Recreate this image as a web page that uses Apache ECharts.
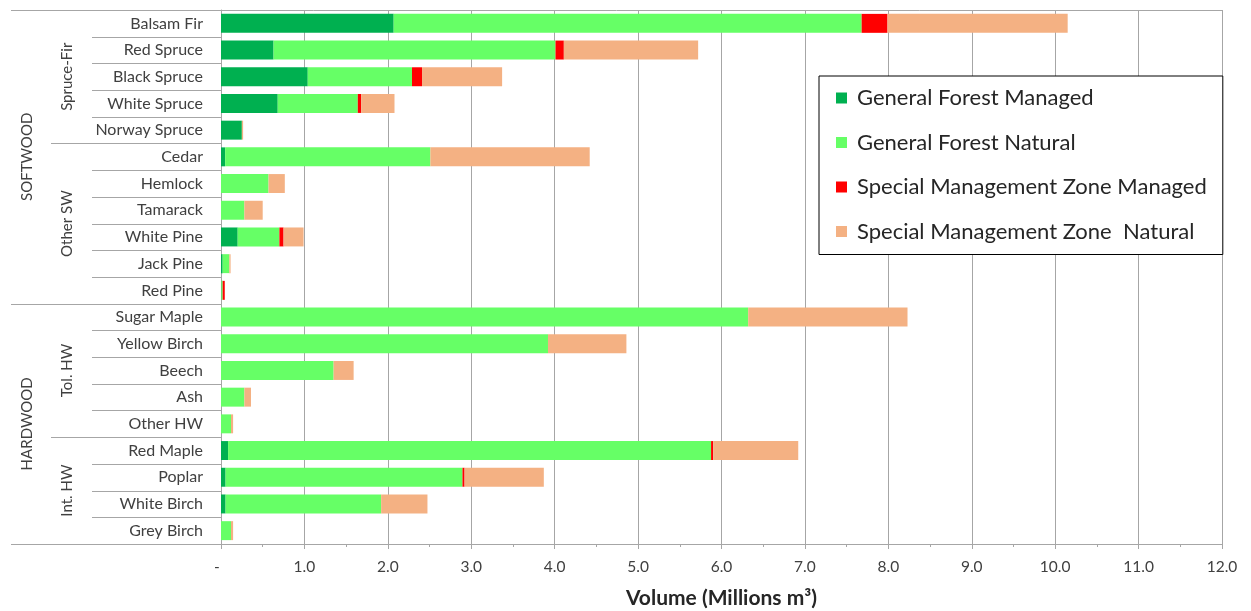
<!DOCTYPE html>
<html>
<head>
<meta charset="utf-8">
<script src="https://cdn.jsdelivr.net/npm/echarts@6/dist/echarts.min.js"></script>
<style>
html,body{margin:0;padding:0;background:#fff;}
#chart{width:1251px;height:611px;}
</style>
</head>
<body>
<div id="chart"></div>
<script>
const categories = ['Balsam Fir','Red Spruce','Black Spruce','White Spruce','Norway Spruce',
  'Cedar','Hemlock','Tamarack','White Pine','Jack Pine','Red Pine',
  'Sugar Maple','Yellow Birch','Beech','Ash','Other HW',
  'Red Maple','Poplar','White Birch','Grey Birch'];
const gfManaged  = [2.07, 0.63, 1.04, 0.68, 0.25, 0.05, 0, 0, 0.20, 0.02, 0.005, 0, 0, 0, 0, 0, 0.085, 0.055, 0.055, 0];
const gfNatural  = [5.61, 3.38, 1.25, 0.96, 0, 2.46, 0.57, 0.28, 0.50, 0.08, 0.015, 6.32, 3.92, 1.35, 0.28, 0.12, 5.79, 2.84, 1.865, 0.12];
const smzManaged = [0.31, 0.10, 0.12, 0.04, 0, 0, 0, 0, 0.05, 0, 0.025, 0, 0, 0, 0, 0, 0.025, 0.025, 0, 0];
const smzNatural = [2.16, 1.61, 0.96, 0.40, 0.015, 1.91, 0.195, 0.22, 0.24, 0.015, 0, 1.91, 0.94, 0.24, 0.08, 0.025, 1.02, 0.95, 0.555, 0.025];
const seriesNames = ['General Forest Managed','General Forest Natural','Special Management Zone Managed','Special Management Zone  Natural'];
const seriesColors = ['#00b050','#66ff66','#ff0000','#f4b183'];
const xTickLabels = ['-','1.0','2.0','3.0','4.0','5.0','6.0','7.0','8.0','9.0','10.0','11.0','12.0'];
const topGroups = [['SOFTWOOD', 11], ['HARDWOOD', 9]];
const subGroups = [['Spruce-Fir', 5], ['Other SW', 6], ['Tol. HW', 5], ['Int. HW', 4]];

const FONT = 'Lato, "Open Sans", sans-serif';
const chart = echarts.init(document.getElementById('chart'), null, {renderer:'canvas'});
const dataArrays = [gfManaged, gfNatural, smzManaged, smzNatural];

const option = {
  animation: false,
  textStyle: {fontFamily: FONT},
  grid: {left: 221, right: 29, top: 10, bottom: 67, show: false, containLabel: false, outerBoundsMode: 'none'},
  legend: {
    orient: 'vertical',
    left: 819, top: 76,
    padding: [10, 16, 11, 17],
    backgroundColor: '#fff',
    borderColor: '#000', borderWidth: 1,
    itemWidth: 11, itemHeight: 11, itemGap: 20.5,
    icon: 'rect',
    textStyle: {fontSize: 22, color: '#262626', fontFamily: FONT, lineHeight: 24, padding:[0,0,0,5]},
    data: seriesNames
  },
  xAxis: {
    type: 'value', min: 0, max: 12, interval: 1,
    axisLine: {show: true, lineStyle: {color: '#a6a6a6', width: 1}},
    axisTick: {show: true, length: 5, lineStyle: {color: '#a6a6a6'}},
    minorTick: {show: true, splitNumber: 2, length: 3, lineStyle: {color: '#a6a6a6'}},
    splitLine: {show: true, lineStyle: {color: '#a6a6a6', width: 1}},
    axisLabel: {margin: 15, fontSize: 15.5, color: '#404040', fontFamily: FONT,
      formatter: v => Math.round(v) === 0 ? '{dash|' + xTickLabels[0] + '}' : xTickLabels[Math.round(v)],
      rich: {dash: {fontSize: 15.5, color: '#404040', fontFamily: FONT, padding: [0, 8, 0, 0]}}},
    name: 'Volume (Millions m³)', nameLocation: 'middle', nameGap: 44,
    nameTextStyle: {fontSize: 21, fontWeight: 'bold', color: '#262626', fontFamily: FONT}
  },
  yAxis: {
    type: 'category', inverse: true, data: categories,
    axisLine: {show: true, lineStyle: {color: '#a6a6a6'}},
    axisTick: {show: false},
    axisLabel: {margin: 18, fontSize: 16, color: '#404040', fontFamily: FONT},
    splitLine: {show: false}
  },
  series: seriesNames.map((n, i) => ({
    name: n, type: 'bar', stack: 'total', barWidth: '71%',
    itemStyle: {color: seriesColors[i]},
    emphasis: {disabled: true},
    data: dataArrays[i]
  }))
};
chart.setOption(option);

function drawDecor() {
  const y0 = chart.convertToPixel({yAxisIndex: 0}, categories[0]);
  const y1 = chart.convertToPixel({yAxisIndex: 0}, categories[1]);
  const band = y1 - y0;
  const xLeft = chart.convertToPixel({xAxisIndex: 0}, 0);
  const xRight = chart.convertToPixel({xAxisIndex: 0}, 12);
  const boundary = k => y0 - band / 2 + k * band;
  const lineColor = '#a6a6a6';
  const els = [];
  const hline = (x1, x2, y) => els.push({type: 'line', silent: true,
    shape: {x1: x1, y1: Math.round(y) + 0.5, x2: x2, y2: Math.round(y) + 0.5},
    style: {stroke: lineColor, lineWidth: 1}});
  const L0 = 11, L1 = 51, L2 = 92;
  hline(L0, xRight, boundary(0));
  hline(L0, xLeft, boundary(categories.length));
  for (let k = 1; k < categories.length; k++) hline(L2, xLeft, boundary(k));
  let acc = 0;
  subGroups.forEach(([name, cnt]) => {
    const mid = boundary(acc + cnt / 2);
    els.push({type: 'text', silent: true, x: 67, y: mid, rotation: Math.PI / 2,
      style: {text: name, fill: '#404040', font: '15px ' + FONT, align: 'center', verticalAlign: 'middle'}});
    acc += cnt;
    if (acc < categories.length) hline(L1, L2, boundary(acc));
  });
  acc = 0;
  topGroups.forEach(([name, cnt]) => {
    const mid = boundary(acc + cnt / 2);
    els.push({type: 'text', silent: true, x: 27, y: mid, rotation: Math.PI / 2,
      style: {text: name, fill: '#404040', font: '15px ' + FONT, align: 'center', verticalAlign: 'middle'}});
    acc += cnt;
    if (acc < categories.length) hline(L0, L1, boundary(acc));
  });
  chart.setOption({graphic: {elements: els}});
}
drawDecor();
</script>
</body>
</html>
